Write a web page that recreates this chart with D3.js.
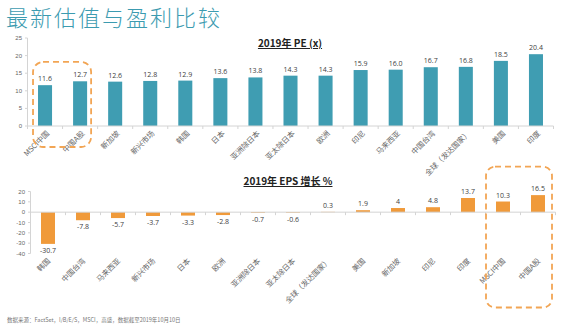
<!DOCTYPE html>
<html>
<head>
<meta charset="utf-8">
<script src="https://cdn.jsdelivr.net/npm/d3@7"></script>
<style>
  body { margin: 0; background: #fff; }
  svg { display: block; }
</style>
</head>
<body>
<div id="chart"></div>
<script>
// top chart: 2019 PE
const peCats = ["MSCI中国", "中国A股", "新加坡", "新兴市场", "韩国", "日本", "亚洲除日本", "亚太除日本", "欧洲", "印尼", "马来西亚", "中国台湾", "全球（发达国家）", "美国", "印度"];
const peValues = [11.6, 12.7, 12.6, 12.8, 12.9, 13.6, 13.8, 14.3, 14.3, 15.9, 16.0, 16.7, 16.8, 18.5, 20.4];
const peTicks = [0, 5, 10, 15, 20, 25];

// bottom chart: 2019 EPS growth
const epsCats = ["韩国", "中国台湾", "马来西亚", "新兴市场", "日本", "欧洲", "亚洲除日本", "亚太除日本", "全球（发达国家）", "美国", "新加坡", "印尼", "印度", "MSCI中国", "中国A股"];
const epsValues = [-30.7, -7.8, -5.7, -3.7, -3.3, -2.8, -0.7, -0.6, 0.3, 1.9, 4, 4.8, 13.7, 10.3, 16.5];
const epsTicks = [20, 10, 0, -10, -20, -30, -40];

const W = 567, H = 329;
const teal = "#3f9db2", orange = "#f09a3a", dash = "#f2a554";
const labelFont = "'Noto Sans CJK SC', sans-serif";

const svg = d3.select("#chart").append("svg")
  .attr("width", W).attr("height", H);

// page title
svg.append("text")
  .attr("x", 6).attr("y", 26)
  .attr("fill", "#3c9bb0")
  .attr("font-family", labelFont)
  .attr("font-weight", 300)
  .attr("font-size", 22)
  .attr("letter-spacing", 2)
  .text("最新估值与盈利比较");

/******** PE chart ********/
const x1 = d3.scaleBand().domain(peCats).range([27.5, 553.5])
  .paddingInner(0.6).paddingOuter(0.3);
const y1 = d3.scaleLinear().domain([0, 25]).range([126, 38]);

// y axis
const g1 = svg.append("g");
g1.append("line")
  .attr("x1", 27.5).attr("x2", 27.5)
  .attr("y1", y1(25)).attr("y2", y1(0))
  .attr("stroke", "#d4d4d4");
g1.selectAll(".yt").data(peTicks).enter().append("line")
  .attr("x1", 25).attr("x2", 27.5)
  .attr("y1", d => y1(d)).attr("y2", d => y1(d))
  .attr("stroke", "#d4d4d4");
g1.selectAll(".yl").data(peTicks).enter().append("text")
  .attr("x", 22).attr("y", d => y1(d) + 2)
  .attr("text-anchor", "end")
  .attr("font-family", "'Liberation Sans', sans-serif")
  .attr("font-size", 6).attr("fill", "#666")
  .text(d => d);

// bars
g1.selectAll("rect.pe").data(peCats).enter().append("rect")
  .attr("x", d => x1(d)).attr("width", x1.bandwidth())
  .attr("y", (d, i) => y1(peValues[i]))
  .attr("height", (d, i) => y1(0) - y1(peValues[i]))
  .attr("fill", teal);

// x axis
g1.append("line")
  .attr("x1", x1.range()[0]).attr("x2", x1.range()[1])
  .attr("y1", y1(0)).attr("y2", y1(0))
  .attr("stroke", "#d4d4d4");
g1.selectAll(".xt").data(d3.range(peCats.length + 1)).enter().append("line")
  .attr("x1", i => x1.range()[0] + i * x1.step())
  .attr("x2", i => x1.range()[0] + i * x1.step())
  .attr("y1", y1(0)).attr("y2", y1(0) + 3)
  .attr("stroke", "#d4d4d4");

// value labels
g1.selectAll(".vl").data(peCats).enter().append("text")
  .attr("x", d => x1(d) + x1.bandwidth() / 2)
  .attr("y", (d, i) => y1(peValues[i]) - 4)
  .attr("text-anchor", "middle")
  .attr("font-family", "'Open Sans', sans-serif")
  .attr("font-size", 7).attr("fill", "#404040")
  .text((d, i) => peValues[i].toFixed(1));

// category labels
g1.selectAll(".cl").data(peCats).enter().append("text")
  .attr("transform", d => "translate(" + (x1(d) + x1.bandwidth() / 2 + 3) + "," + (y1(0) + 6) + ") rotate(-45)")
  .attr("text-anchor", "end")
  .attr("dy", "0.35em")
  .attr("font-family", labelFont)
  .attr("font-size", 7.5).attr("fill", "#666")
  .text(d => d);

// chart title
svg.append("text")
  .attr("x", 290).attr("y", 47)
  .attr("text-anchor", "middle")
  .attr("font-family", labelFont)
  .attr("font-weight", 700)
  .attr("font-size", 10)
  .attr("text-decoration", "underline")
  .attr("fill", "#222")
  .text("2019年 PE (x)");

/******** EPS chart ********/
const x2 = d3.scaleBand().domain(epsCats).range([30.5, 555.5])
  .paddingInner(0.6).paddingOuter(0.3);
const y2 = d3.scaleLinear().domain([-40, 20]).range([253.5, 191.5]);

const g2 = svg.append("g");
g2.append("line")
  .attr("x1", 30.5).attr("x2", 30.5)
  .attr("y1", y2(20)).attr("y2", y2(-40))
  .attr("stroke", "#d4d4d4");
g2.selectAll(".yt").data(epsTicks).enter().append("line")
  .attr("x1", 28).attr("x2", 30.5)
  .attr("y1", d => y2(d)).attr("y2", d => y2(d))
  .attr("stroke", "#d4d4d4");
g2.selectAll(".yl").data(epsTicks).enter().append("text")
  .attr("x", 25).attr("y", d => y2(d) + 2)
  .attr("text-anchor", "end")
  .attr("font-family", "'Liberation Sans', sans-serif")
  .attr("font-size", 6).attr("fill", "#666")
  .text(d => d);

g2.selectAll("rect.eps").data(epsCats).enter().append("rect")
  .attr("x", d => x2(d)).attr("width", x2.bandwidth())
  .attr("y", (d, i) => y2(Math.max(0, epsValues[i])))
  .attr("height", (d, i) => Math.abs(y2(epsValues[i]) - y2(0)))
  .attr("fill", orange);

g2.append("line")
  .attr("x1", x2.range()[0]).attr("x2", x2.range()[1])
  .attr("y1", y2(0)).attr("y2", y2(0))
  .attr("stroke", "#d4d4d4");
g2.selectAll(".xt").data(d3.range(epsCats.length + 1)).enter().append("line")
  .attr("x1", i => x2.range()[0] + i * x2.step())
  .attr("x2", i => x2.range()[0] + i * x2.step())
  .attr("y1", y2(0)).attr("y2", y2(0) + 3)
  .attr("stroke", "#d4d4d4");

g2.selectAll(".vl").data(epsCats).enter().append("text")
  .attr("x", d => x2(d) + x2.bandwidth() / 2)
  .attr("y", (d, i) => epsValues[i] >= 0 ? y2(epsValues[i]) - 4 : y2(epsValues[i]) + 9)
  .attr("text-anchor", "middle")
  .attr("font-family", "'Open Sans', sans-serif")
  .attr("font-size", 7).attr("fill", "#404040")
  .text((d, i) => String(epsValues[i]));

g2.selectAll(".cl").data(epsCats).enter().append("text")
  .attr("transform", d => "translate(" + (x2(d) + x2.bandwidth() / 2 + 1) + "," + (y2(-40) + 6) + ") rotate(-45)")
  .attr("text-anchor", "end")
  .attr("dy", "0.35em")
  .attr("font-family", labelFont)
  .attr("font-size", 7.5).attr("fill", "#666")
  .text(d => d);

svg.append("text")
  .attr("x", 288).attr("y", 185)
  .attr("text-anchor", "middle")
  .attr("font-family", labelFont)
  .attr("font-weight", 700)
  .attr("font-size", 10)
  .attr("text-decoration", "underline")
  .attr("fill", "#222")
  .text("2019年 EPS 增长 %");

/******** dashed highlight boxes ********/
const bx1 = x1(peCats[0]) - 5, bx1r = x1(peCats[1]) + x1.bandwidth() + 4;
svg.append("rect")
  .attr("x", bx1).attr("y", y1(18.2))
  .attr("width", bx1r - bx1).attr("height", y1(0) + 21 - y1(18.2))
  .attr("rx", 10).attr("ry", 10)
  .attr("fill", "none").attr("stroke", dash)
  .attr("stroke-width", 1.8).attr("stroke-dasharray", "6,4");

const bx2 = x2("MSCI中国") - 10, bx2r = x2("中国A股") + x2.bandwidth() + 7;
svg.append("rect")
  .attr("x", bx2).attr("y", y2(44))
  .attr("width", bx2r - bx2).attr("height", y2(-40) + 54 - y2(44))
  .attr("rx", 9).attr("ry", 9)
  .attr("fill", "none").attr("stroke", dash)
  .attr("stroke-width", 1.8).attr("stroke-dasharray", "6,4");

// source note
svg.append("text")
  .attr("x", 7).attr("y", 322)
  .attr("font-family", labelFont)
  .attr("font-size", 5.5).attr("fill", "#777")
  .text("数据来源：FactSet，I/B/E/S，MSCI，高盛，数据截至2019年10月10日");
</script>
</body>
</html>
